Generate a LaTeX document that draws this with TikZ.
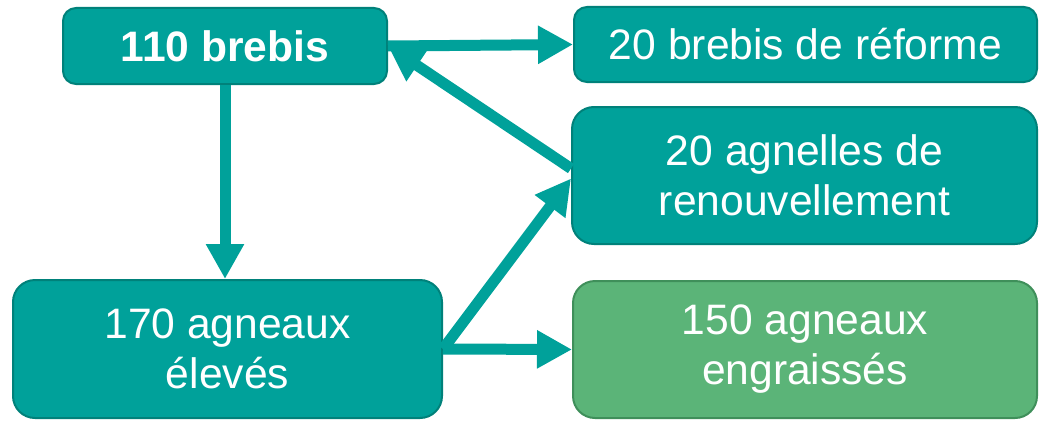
\documentclass[tikz,border=0pt]{standalone}
\usepackage{fontspec}
\setmainfont{Liberation Sans}
\usetikzlibrary{arrows.meta}
\definecolor{teal1}{HTML}{00A19A}
\definecolor{teal2}{HTML}{00817A}
\definecolor{green1}{HTML}{5BB478}
\definecolor{green2}{HTML}{3F8F5A}
\tikzset{
  box/.style={draw=teal2, fill=teal1, line width=2pt, text=white, align=center,
    inner sep=0pt, font=\fontsize{42.6}{50}\selectfont},
  gbox/.style={box, draw=green2, fill=green1},
  flow/.style={draw=teal1, line width=11pt, -{Triangle[length=35pt,width=36pt]}}
}
\begin{document}
\begin{tikzpicture}[x=1pt,y=-1pt]
\useasboundingbox (0,0) rectangle (1040,420);
\node[box, minimum width=324pt, minimum height=76pt, rounded corners=13pt, font=\fontsize{42.6}{50}\selectfont\bfseries] (A) at (225,46) {110 brebis};
\node[box, minimum width=463pt, minimum height=75pt, rounded corners=13pt] (B) at (805.5,44.5) {20 brebis de réforme};
\node[box, minimum width=465pt, minimum height=137pt, rounded corners=22pt] (C) at (804.5,175.5) {20 agnelles de\\renouvellement};
\node[box, minimum width=429pt, minimum height=138pt, rounded corners=22pt] (D) at (227.5,349) {170 agneaux\\élevés};
\node[gbox, minimum width=464pt, minimum height=137pt, rounded corners=22pt] (E) at (805,349.5) {150 agneaux\\engraissés};
\draw[flow] (A.east) -- (B.west);
\draw[flow] ([yshift=7pt]C.west) -- (A.east);
\draw[flow] (D.east) -- ([yshift=-3pt]C.west);
\draw[flow] (D.east) -- (E.west);
\draw[flow] (A.south) -- (A.south |- D.north);
\end{tikzpicture}
\end{document}
